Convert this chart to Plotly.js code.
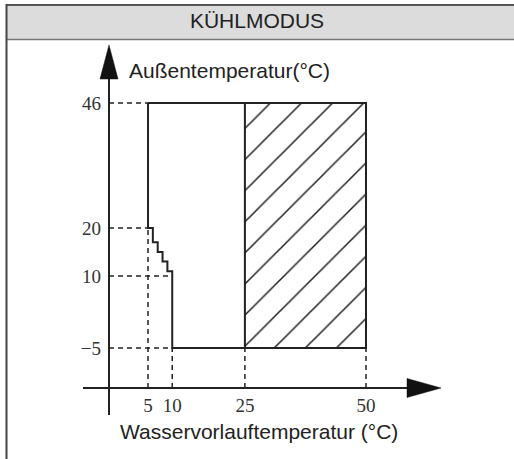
<!DOCTYPE html>
<html>
<head>
<meta charset="utf-8">
<script src="https://cdn.plot.ly/plotly-3.0.1.min.js"></script>
<style>
html,body{margin:0;padding:0;background:#fff;}
#chart{width:514px;height:459px;}
</style>
</head>
<body>
<div id="chart"></div>
<script>
// ---- data ----
const xTickVals = [5, 10, 25, 50];
const xTickText = ['5', '10', '25', '50'];
const yTickVals = [46, 20, 10, -5];
const yTickText = ['46', '20', '10', '\u22125'];

// operating envelope (outline)
const envX = [5, 50, 50, 10, 10, 9, 9, 8, 8, 7, 7, 6, 6, 5, 5];
const envY = [46, 46, -5, -5, 11, 11, 13, 13, 15, 15, 17, 17, 20, 20, 46];

// hatched zone
const zoneX = [25, 50, 50, 25, 25];
const zoneY = [-5, -5, 46, 46, -5];

// dashed guides
const guideHY = [46, 20, 10, -5];
const guideHX = [5, 5, 10, 10];
const guideVX = [5, 10, 25, 50];
const guideVY = [20, -5, -5, -5];

const titleText = 'KÜHLMODUS';
const yTitle = 'Außentemperatur(°C)';
const xTitle = 'Wasservorlauftemperatur (°C)';

// ---- layout geometry ----
const W = 514, H = 459;
const xRange = [-25.557, 80.553];
const yRange = [-28.10, 67.44];
const axisX = -3.055;   // where the vertical axis stands
const axisY = -13.32;   // where the horizontal axis lies
const xAxisStart = -8.42, xAxisTip = 65.49;
const yAxisStart = -18.94, yAxisTip = 58.08;

const ink = '#222';

// guides trace
const gx = [], gy = [];
guideHY.forEach((v, i) => { gx.push(axisX, guideHX[i], null); gy.push(v, v, null); });
guideVX.forEach((v, i) => { gx.push(v, v, null); gy.push(axisY, guideVY[i], null); });

const traces = [
  {x: gx, y: gy, mode: 'lines', line: {color: ink, width: 1.5, dash: '5px,4px'}, connectgaps: false, hoverinfo: 'skip'},
  {x: zoneX, y: zoneY, mode: 'lines', fill: 'toself', fillcolor: 'rgba(0,0,0,0)',
   fillpattern: {shape: '/', size: 22, solidity: 0.07, fgcolor: ink, bgcolor: 'rgba(255,255,255,0)'},
   line: {color: ink, width: 2}, hoverinfo: 'skip'},
  {x: envX, y: envY, mode: 'lines', line: {color: ink, width: 2}, hoverinfo: 'skip'}
];

const py = v => 1 - v / H;
const shapes = [
  // header band
  {type: 'rect', xref: 'paper', yref: 'paper', x0: 6 / W, x1: 1, y0: py(39.5), y1: py(5), fillcolor: '#dcdcdc', line: {width: 0}, layer: 'below'},
  {type: 'line', xref: 'paper', yref: 'paper', x0: 6 / W, x1: 1, y0: py(5), y1: py(5), line: {color: '#555', width: 2}},
  {type: 'line', xref: 'paper', yref: 'paper', x0: 6 / W, x1: 1, y0: py(39.5), y1: py(39.5), line: {color: '#777', width: 1.5}},
  {type: 'line', xref: 'paper', yref: 'paper', x0: 6.5 / W, x1: 6.5 / W, y0: 0, y1: py(4), line: {color: '#444', width: 2}},
  // axes
  {type: 'line', xref: 'x', yref: 'y', x0: xAxisStart, x1: xAxisTip - 5, y0: axisY, y1: axisY, line: {color: ink, width: 2}},
  {type: 'line', xref: 'x', yref: 'y', x0: axisX, x1: axisX, y0: yAxisStart, y1: yAxisTip - 5, line: {color: ink, width: 2}},
  // arrowheads
  {type: 'path', xref: 'x', yref: 'y', xsizemode: 'pixel', ysizemode: 'pixel', xanchor: xAxisTip, yanchor: axisY,
   path: 'M0,0 L-34,9.5 L-34,-9.5 Z', fillcolor: '#111', line: {color: '#111', width: 0.5}},
  {type: 'path', xref: 'x', yref: 'y', xsizemode: 'pixel', ysizemode: 'pixel', xanchor: axisX, yanchor: yAxisTip,
   path: 'M0,0 L-9,-34 L9,-34 Z', fillcolor: '#111', line: {color: '#111', width: 0.5}}
];

const annotations = [
  {xref: 'paper', yref: 'paper', x: 127 / W, y: py(71), xanchor: 'left', yanchor: 'middle', showarrow: false,
   text: yTitle, font: {family: 'Liberation Sans, Arial, sans-serif', size: 21, color: ink}},
  {xref: 'paper', yref: 'paper', x: 259 / W, y: py(431), xanchor: 'center', yanchor: 'middle', showarrow: false,
   text: xTitle, font: {family: 'Liberation Sans, Arial, sans-serif', size: 21, color: ink}}
];

const layout = {
  width: W, height: H,
  margin: {l: 0, r: 0, t: 0, b: 0, pad: 0},
  paper_bgcolor: '#fff', plot_bgcolor: '#fff',
  showlegend: false,
  hovermode: false,
  title: {text: titleText, x: 0.5, xanchor: 'center', y: py(21), yanchor: 'middle', yref: 'paper',
          font: {family: 'Liberation Sans, Arial, sans-serif', size: 21, color: ink}},
  xaxis: {range: xRange, anchor: 'free', position: 1 - 388 / H, showgrid: false, zeroline: false, showline: false,
          tickmode: 'array', tickvals: xTickVals, ticktext: xTickText, ticks: '', ticklabelstandoff: 4,
          tickfont: {family: 'Liberation Serif, Times New Roman, serif', size: 19, color: '#333'}, fixedrange: true},
  yaxis: {range: yRange, anchor: 'free', position: 109 / W, showgrid: false, zeroline: false, showline: false,
          tickmode: 'array', tickvals: yTickVals, ticktext: yTickText, ticks: '', ticklabelstandoff: 8,
          tickfont: {family: 'Liberation Serif, Times New Roman, serif', size: 19, color: '#333'}, fixedrange: true},
  shapes: shapes,
  annotations: annotations
};

Plotly.newPlot('chart', traces, layout, {staticPlot: true, displayModeBar: false});
</script>
</body>
</html>
